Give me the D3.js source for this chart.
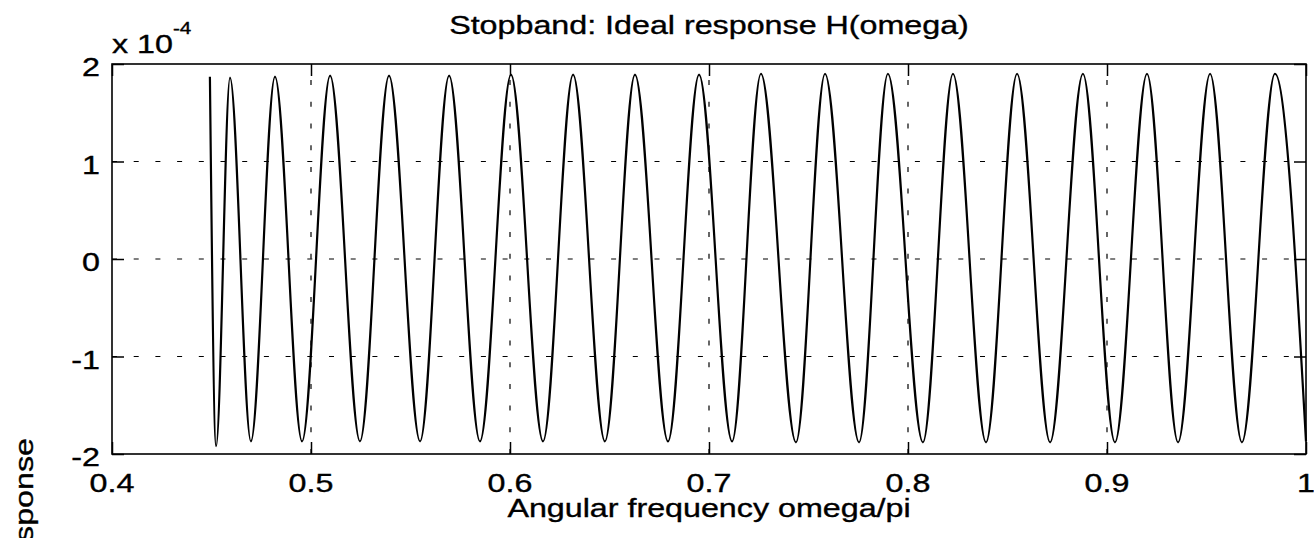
<!DOCTYPE html>
<html>
<head>
<meta charset="utf-8">
<script src="https://cdn.jsdelivr.net/npm/d3@7"></script>
<style>
  html, body { margin: 0; padding: 0; background: #fff; overflow: hidden; }
  svg { display: block; }
  text { font-family: "Liberation Sans", Arial, Helvetica, sans-serif; fill: #000; stroke: #000; stroke-width: 0.35px; }
</style>
</head>
<body>
<div id="chart"></div>
<script>
// ---- data ----
const titleText = "Stopband: Ideal response H(omega)";
const xLabelText = "Angular frequency omega/pi";
const yLabelText = "Ideal response";
const exponentBase = "x 10";
const exponentPower = "-4";
const xTicks = [0.4, 0.5, 0.6, 0.7, 0.8, 0.9, 1];
const xTickLabels = ["0.4", "0.5", "0.6", "0.7", "0.8", "0.9", "1"];
const yTicks = [-2, -1, 0, 1, 2];
const yTickLabels = ["-2", "-1", "0", "1", "2"];
// frequency (omega/pi) of the start point and of each ripple extremum
const omega = [0.4492, 0.4523, 0.4593, 0.4698, 0.4819, 0.4955, 0.5096, 0.5246, 0.5392, 0.5548,
               0.5694, 0.5849, 0.6005, 0.6166, 0.6317, 0.6477, 0.6628, 0.6794, 0.6950, 0.7116,
               0.7261, 0.7437, 0.7583, 0.7754, 0.7899, 0.8075, 0.8226, 0.8392, 0.8548, 0.8714,
               0.8879, 0.9040, 0.9201, 0.9357, 0.9518, 0.9678, 0.9844, 1.0];
// H(omega) in units of 1e-4
const H = [1.87, -1.92, 1.86, -1.87, 1.87, -1.87, 1.88, -1.87, 1.88, -1.87,
           1.88, -1.87, 1.89, -1.87, 1.89, -1.87, 1.89, -1.87, 1.89, -1.87,
           1.90, -1.88, 1.90, -1.88, 1.90, -1.88, 1.90, -1.88, 1.90, -1.88,
           1.90, -1.88, 1.90, -1.88, 1.90, -1.88, 1.90, -1.87];

(function () {
// ---- layout ----
const W = 1314, HPX = 538;
const mL = 112, mR = 1306, mT = 64, mB = 454;
const FS = 25, SX = 1.29, TICK = 12;

const svg = d3.select("#chart").append("svg").attr("width", W).attr("height", HPX);
svg.append("rect").attr("width", W).attr("height", HPX).attr("fill", "#fff");

const x = d3.scaleLinear().domain([0.4, 1]).range([mL, mR]);
const y = d3.scaleLinear().domain([-2, 2]).range([mB, mT]);

// grid
const grid = svg.append("g").attr("stroke", "#000").attr("stroke-width", 1.2)
  .attr("stroke-dasharray", "5,16.7").attr("fill", "none");
grid.selectAll("line.v").data(xTicks.filter(d => d > 0.4 && d < 1)).join("line")
  .attr("class", "v").attr("x1", d => x(d)).attr("x2", d => x(d))
  .attr("y1", mB).attr("y2", mT);
grid.selectAll("line.h").data(yTicks.filter(d => d > -2 && d < 2)).join("line")
  .attr("class", "h").attr("x1", mL).attr("x2", mR)
  .attr("y1", d => y(d)).attr("y2", d => y(d));

// curve
const line = d3.line().x((d, i) => x(omega[i])).y(d => y(d)).curve(d3.curveMonotoneX);
svg.append("path").datum(H).attr("d", line).attr("fill", "none")
  .attr("stroke", "#000").attr("stroke-width", 2.2).attr("stroke-linejoin", "round");

// axes ticks (inward, all four sides)
const axB = svg.append("g").attr("transform", `translate(0,${mB})`)
  .call(d3.axisBottom(x).tickValues(xTicks).tickSize(-TICK).tickFormat(""));
const axT = svg.append("g").attr("transform", `translate(0,${mT})`)
  .call(d3.axisTop(x).tickValues(xTicks).tickSize(-TICK).tickFormat(""));
const axL = svg.append("g").attr("transform", `translate(${mL},0)`)
  .call(d3.axisLeft(y).tickValues(yTicks).tickSize(-TICK).tickFormat(""));
const axR = svg.append("g").attr("transform", `translate(${mR},0)`)
  .call(d3.axisRight(y).tickValues(yTicks).tickSize(-TICK).tickFormat(""));
[axB, axT, axL, axR].forEach(g => {
  g.selectAll(".domain").remove();
  g.selectAll(".tick line").attr("stroke", "#000").attr("stroke-width", 1.5);
});

// box
svg.append("rect").attr("x", mL).attr("y", mT)
  .attr("width", mR - mL).attr("height", mB - mT)
  .attr("fill", "none").attr("stroke", "#000").attr("stroke-width", 1.6);

// tick labels
svg.append("g").selectAll("text").data(xTicks).join("text")
  .attr("transform", d => `translate(${x(d)},${mB + 38}) scale(${SX},1)`)
  .attr("text-anchor", "middle").attr("font-size", FS)
  .text((d, i) => xTickLabels[i]);
svg.append("g").selectAll("text").data(yTicks).join("text")
  .attr("transform", d => `translate(${mL - 12},${y(d) + 12}) scale(${SX},1)`)
  .attr("text-anchor", "end").attr("font-size", FS)
  .text((d, i) => yTickLabels[i]);

// exponent label
const ex = svg.append("text").attr("transform", `translate(${mL},53) scale(${SX},1)`)
  .attr("font-size", FS);
ex.append("tspan").text(exponentBase);
ex.append("tspan").attr("font-size", 16).attr("dy", -19).text(exponentPower);

// title
svg.append("text").attr("transform", `translate(${(mL + mR) / 2},34) scale(${SX},1)`)
  .attr("text-anchor", "middle").attr("font-size", FS).text(titleText);

// x label
svg.append("text").attr("transform", `translate(${(mL + mR) / 2},517) scale(${SX},1)`)
  .attr("text-anchor", "middle").attr("font-size", FS).text(xLabelText);

// y label (mostly outside the visible window, as in the reference)
svg.append("text").attr("transform", `translate(33,438) rotate(-90) scale(${SX},1)`)
  .attr("text-anchor", "end").attr("font-size", FS).text(yLabelText);
})();
</script>
</body>
</html>
